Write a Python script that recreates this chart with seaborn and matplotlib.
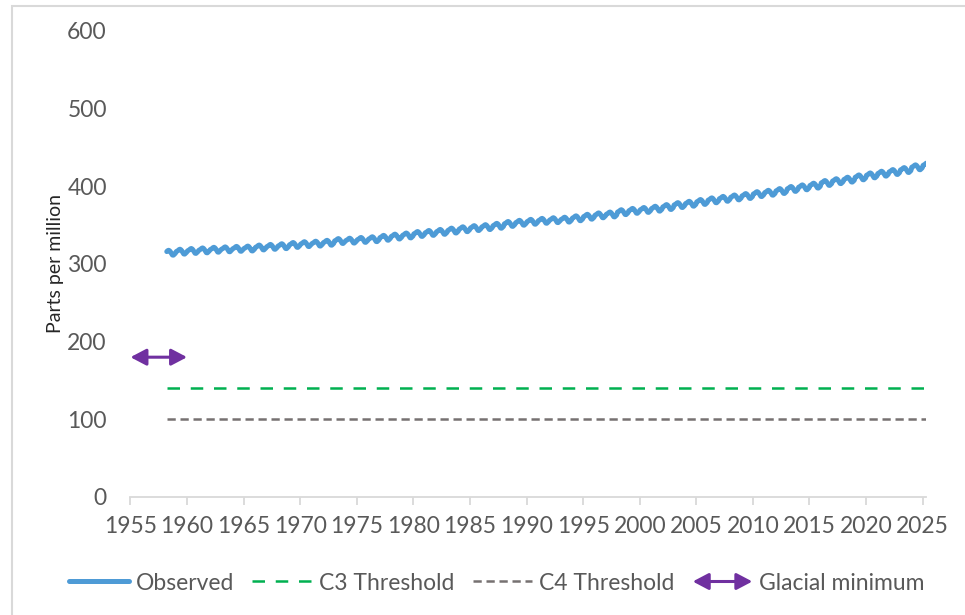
import numpy as np
import pandas as pd
import matplotlib
matplotlib.use("Agg")
import matplotlib.pyplot as plt
import matplotlib.patches as mpatches
from matplotlib.legend_handler import HandlerBase
from matplotlib.lines import Line2D
import seaborn as sns

### Data (Mauna Loa CO2, ppm) ###

years = list(range(1958, 2026))
annual_mean = [314.6, 315.98, 316.91, 317.64, 318.45, 318.99, 319.62, 320.04, 321.37, 322.18,
               323.05, 324.62, 325.68, 326.32, 327.46, 329.68, 330.19, 331.12, 332.03, 333.84,
               335.41, 336.84, 338.76, 340.12, 341.48, 343.15, 344.87, 346.35, 347.61, 349.31,
               351.69, 353.20, 354.45, 355.70, 356.54, 357.21, 358.96, 360.97, 362.74, 363.88,
               366.84, 368.54, 369.71, 371.32, 373.45, 375.98, 377.70, 379.98, 382.09, 384.02,
               385.83, 387.64, 390.10, 391.85, 394.06, 396.74, 398.81, 401.01, 404.41, 406.76,
               408.72, 411.65, 414.21, 416.41, 418.53, 421.08, 424.61, 427.0]
# mean seasonal cycle, Jan..Dec (ppm offset from annual mean)
seasonal_offset = [-0.03, 0.63, 1.38, 2.53, 3.03, 2.33, 0.83, -1.25, -3.05, -3.25, -2.03, -0.93]
first_month = 3   # record starts March 1958
last_month = 5    # ... and ends May 2025

c3_threshold = 140
c4_threshold = 100
glacial_years = [1955, 1960]
glacial_ppm = [180, 180]

rows = []
for y, m_ppm in zip(years, annual_mean):
    for m in range(1, 13):
        if y == years[0] and m < first_month:
            continue
        if y == years[-1] and m > last_month:
            continue
        rows.append({"year": y + (m - 0.5) / 12, "ppm": m_ppm + seasonal_offset[m - 1]})
obs = pd.DataFrame(rows)

span = [obs["year"].iloc[0], obs["year"].iloc[-1]]
c3 = pd.DataFrame({"year": span, "ppm": [c3_threshold] * 2})
c4 = pd.DataFrame({"year": span, "ppm": [c4_threshold] * 2})

### Styling ###

blue = "#4E9BD6"
green = "#00B050"
grey = "#767171"
purple = "#7030A0"
txt = "#595959"
axcol = "#D9D9D9"
arrow_style = "<|-|>,head_length=0.95,head_width=0.5"

sns.set_theme(style="white")
plt.rcParams["font.family"] = ["Lato", "DejaVu Sans"]

fig = plt.figure(figsize=(9.65, 6.15), dpi=100)
ax = fig.add_axes([0.1352, 0.1919, 0.8244, 0.7577])

fig.patches.append(mpatches.Rectangle((12 / 965, -0.1), 1.2, 1 - 6 / 615 + 0.1,
                                      transform=fig.transFigure, fill=False,
                                      edgecolor="#D9D9D9", lw=1.5))

sns.lineplot(data=obs, x="year", y="ppm", ax=ax, color=blue, lw=3.6,
             estimator=None, solid_capstyle="round", label="Observed")
sns.lineplot(data=c3, x="year", y="ppm", ax=ax, color=green, lw=1.8, label="C3 Threshold")
ax.lines[-1].set_dashes((5, 4.3))
sns.lineplot(data=c4, x="year", y="ppm", ax=ax, color=grey, lw=1.8, label="C4 Threshold")
ax.lines[-1].set_dashes((3.3, 1.9))

ax.annotate("", xy=(glacial_years[1], glacial_ppm[1]), xytext=(glacial_years[0], glacial_ppm[0]),
            arrowprops=dict(arrowstyle=arrow_style, color=purple, lw=2.2,
                            shrinkA=0, shrinkB=0, mutation_scale=10))

ax.set_xlim(1955, 2025.3)
ax.set_ylim(0, 600)
ax.set_xticks(range(1955, 2026, 5))
ax.set_yticks(range(0, 601, 100))
ax.set_xlabel("")
ax.set_ylabel("Parts per million", fontsize=14, color="#262626", labelpad=2.5)

for s in ["top", "right", "left"]:
    ax.spines[s].set_visible(False)
ax.spines["bottom"].set_color(axcol)
ax.spines["bottom"].set_linewidth(1.3)
ax.tick_params(axis="x", which="major", bottom=True, length=6, width=1.3, color=axcol,
               direction="out", labelsize=16.5, labelcolor=txt, pad=8)
ax.tick_params(axis="y", left=False, labelsize=16.5, labelcolor=txt, pad=11)


class ArrowHandler(HandlerBase):
    def create_artists(self, legend, orig_handle, xdescent, ydescent, width, height,
                       fontsize, trans):
        yc = height / 2 - ydescent
        arr = mpatches.FancyArrowPatch((-xdescent, yc), (-xdescent + width, yc),
                                       arrowstyle=arrow_style, color=purple, lw=2.2,
                                       mutation_scale=10, shrinkA=0, shrinkB=0,
                                       transform=trans)
        return [arr]


ax.get_legend().remove()
handles = [Line2D([], [], color=blue, lw=3.6, solid_capstyle="round"),
           Line2D([], [], color=green, lw=1.8, dashes=(5, 4.3)),
           Line2D([], [], color=grey, lw=1.8, dashes=(3.3, 1.9)),
           mpatches.FancyArrowPatch((0, 0), (1, 0))]
labels = ["Observed", "C3 Threshold", "C4 Threshold", "Glacial minimum"]
fig.legend(handles, labels, loc="center", bbox_to_anchor=(0.515, 0.052), ncol=4,
           frameon=False, fontsize=16.5, labelcolor=txt, handlelength=2.6,
           handletextpad=0.3, columnspacing=0.8,
           handler_map={mpatches.FancyArrowPatch: ArrowHandler()})

fig.savefig("out.png", dpi=100)
